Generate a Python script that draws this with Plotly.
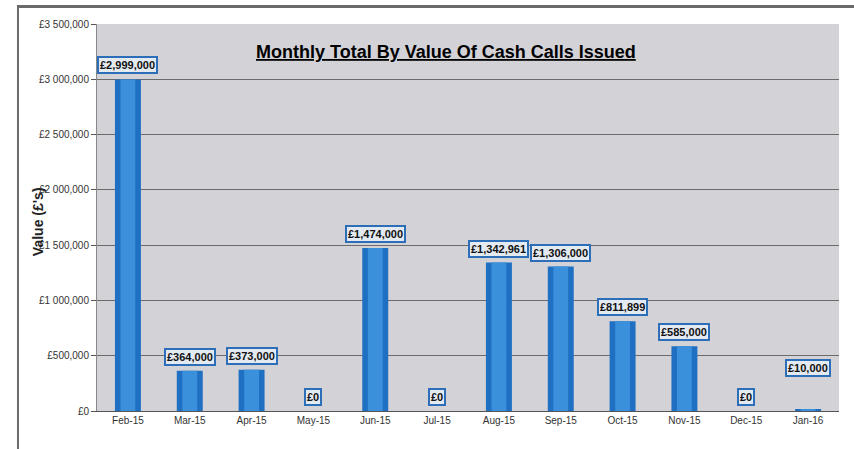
import plotly.graph_objects as go

months = ["Feb-15", "Mar-15", "Apr-15", "May-15", "Jun-15", "Jul-15",
          "Aug-15", "Sep-15", "Oct-15", "Nov-15", "Dec-15", "Jan-16"]
values = [2999000, 364000, 373000, 0, 1474000, 0,
          1342961, 1306000, 811899, 585000, 0, 10000]
value_labels = ["£2,999,000", "£364,000", "£373,000", "£0", "£1,474,000", "£0",
                "£1,342,961", "£1,306,000", "£811,899", "£585,000", "£0", "£10,000"]
tick_vals = [0, 500000, 1000000, 1500000, 2000000, 2500000, 3000000, 3500000]
tick_text = ["£0", "£500,000", "£1 000,000", "£1 500,000", "£2 000,000",
             "£2 500,000", "£3 000,000", "£3 500,000"]
title_text = "Monthly Total By Value Of Cash Calls Issued"
y_title = "Value (£'s)"

fig = go.Figure()
fig.add_trace(go.Bar(x=months, y=values, width=0.42,
                     marker=dict(color="#1f6fc2", line=dict(width=0)),
                     hoverinfo="skip", showlegend=False))
fig.add_trace(go.Bar(x=months, y=values, width=0.24,
                     marker=dict(color="#3a90da", line=dict(width=0)),
                     hoverinfo="skip", showlegend=False))

extra_shift = {11: 28}
for i, (m, v, t) in enumerate(zip(months, values, value_labels)):
    fig.add_annotation(x=m, y=v, text="<b>" + t + "</b>", showarrow=False,
                       yanchor="bottom", yshift=5 + extra_shift.get(i, 0),
                       font=dict(family="Liberation Sans, Arial, sans-serif",
                                 size=11, color="#111111"),
                       bgcolor="#e4eaf2", bordercolor="#2c6fb8", borderwidth=2,
                       borderpad=1)

fig.add_annotation(x=0.47, y=0.928, xref="paper", yref="paper", yanchor="middle",
                   text="<b><u>" + title_text + "</u></b>", showarrow=False,
                   font=dict(family="Liberation Sans, Arial, sans-serif", size=18, color="#000000"))

fig.add_annotation(x=-0.0795, y=0.488, xref="paper", yref="paper", textangle=-90,
                   xanchor="center", yanchor="middle",
                   text="<b>" + y_title + "</b>", showarrow=False,
                   font=dict(family="Liberation Sans, Arial, sans-serif", size=14, color="#222222"))

# outer frame of the chart (top band and left edge), placed in pixels
fig.add_shape(type="rect", xref="paper", yref="paper", xsizemode="pixel", ysizemode="pixel",
              xanchor=0, yanchor=1, x0=-80, x1=760, y0=16, y1=19,
              line=dict(width=0), fillcolor="#6a6a6a", layer="above")
fig.add_shape(type="line", xref="paper", yref="paper", x0=-0.1065, x1=-0.1065,
              y0=1.049, y1=-0.12, line=dict(color="#6a6a6a", width=2),
              layer="above")

fig.update_layout(
    width=854, height=449,
    margin=dict(l=97, r=15, t=24, b=38),
    paper_bgcolor="#ffffff", plot_bgcolor="#d3d3d7",
    barmode="overlay", bargap=0.4,
    font=dict(family="Liberation Sans, Arial, sans-serif",
              size=10, color="#333333"),
    xaxis=dict(showgrid=False, tickfont=dict(size=10), ticks="", showline=True,
               linecolor="#555555", linewidth=1),
    yaxis=dict(range=[0, 3500000], tickvals=tick_vals, ticktext=tick_text,
               showgrid=True, gridcolor="#6b6b6b", gridwidth=1,
               ticks="outside", ticklen=5, tickcolor="#555555",
               showline=True, linecolor="#888888", zeroline=False,
               tickfont=dict(size=10)),
)

fig.write_html("out.html", config={"displayModeBar": False},
               post_script="document.body.style.margin='0px';")
